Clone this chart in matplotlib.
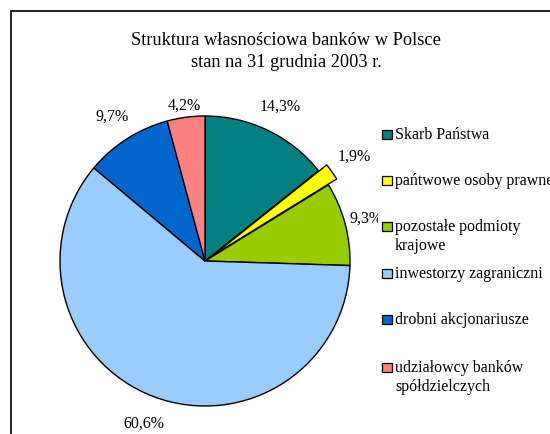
import numpy as np
import matplotlib.pyplot as plt
from matplotlib.patches import Rectangle

plt.rcParams['font.family'] = ['Liberation Serif', 'DejaVu Serif']

title = ["Struktura własnościowa banków w Polsce", "stan na 31 grudnia 2003 r."]
labels = ["Skarb Państwa", "pańtwowe osoby prawne", "pozostałe podmioty\nkrajowe",
          "inwestorzy zagraniczni", "drobni akcjonariusze", "udziałowcy banków\nspółdzielczych"]
values = [14.3, 1.9, 9.3, 60.6, 9.7, 4.2]
colors = ["#008080", "#FFFF00", "#99CC00", "#99CCFF", "#0066CC", "#FF8080"]
explode = [0, 0.07, 0, 0, 0, 0]
label_dist = [1.19, 1.19, 1.15, 1.19, 1.19, 1.09]

W, H = 550, 435
fig = plt.figure(figsize=(5.5, 4.35), dpi=100)

# pie centre (205, 262) px, radius 145 px
cx, cy, r = 205, 262, 145
ax = fig.add_axes([(cx - r) / W, (H - cy - r) / H, 2 * r / W, 2 * r / H])
pct = [("%.1f%%" % v).replace(".", ",") for v in values]
wedges, texts = ax.pie(values, colors=colors, explode=explode, startangle=90,
                       counterclock=False, labels=pct, labeldistance=1.19,
                       wedgeprops=dict(edgecolor="black", linewidth=1),
                       textprops=dict(fontsize=11.5))
for w, t, d in zip(wedges, texts, label_dist):
    ang = np.deg2rad((w.theta1 + w.theta2) / 2)
    x0, y0 = w.center
    t.set_position((x0 + d * np.cos(ang), y0 + d * np.sin(ang)))
    t.set_ha("center")
    t.set_va("center")
ax.set_xlim(-1, 1)
ax.set_ylim(-1, 1)
ax.set_aspect("equal")
ax.axis("off")

# outer frame
fig.patches.append(Rectangle((11 / W, -0.1), 1.2, (H - 12) / H + 0.1, transform=fig.transFigure,
                             fill=False, edgecolor="black", linewidth=1.2, zorder=0))

# legend area (white, covers label overflow)
fig.patches.append(Rectangle((378 / W, 110 / H), 0.5, 290 / H, transform=fig.transFigure,
                             facecolor="white", edgecolor="none", zorder=2))

# legend: first-line baselines in px from top
leg_base = [139, 185, 231, 278, 324, 372]
line_h = 19
for lab, col, y in zip(labels, colors, leg_base):
    fig.patches.append(Rectangle((382 / W, (H - y - 1) / H), 10 / W, 9 / H,
                                 transform=fig.transFigure, facecolor=col,
                                 edgecolor="black", linewidth=0.9, zorder=3))
    for k, line in enumerate(lab.split("\n")):
        fig.text(395 / W, (H - y - k * line_h) / H, line, fontsize=11.5,
                 ha="left", va="baseline", zorder=4)

for k, line in enumerate(title):
    fig.text(286 / W, (H - 45 - k * 22) / H, line, ha="center", va="baseline", fontsize=13.2)

fig.savefig("out.png", dpi=100)
